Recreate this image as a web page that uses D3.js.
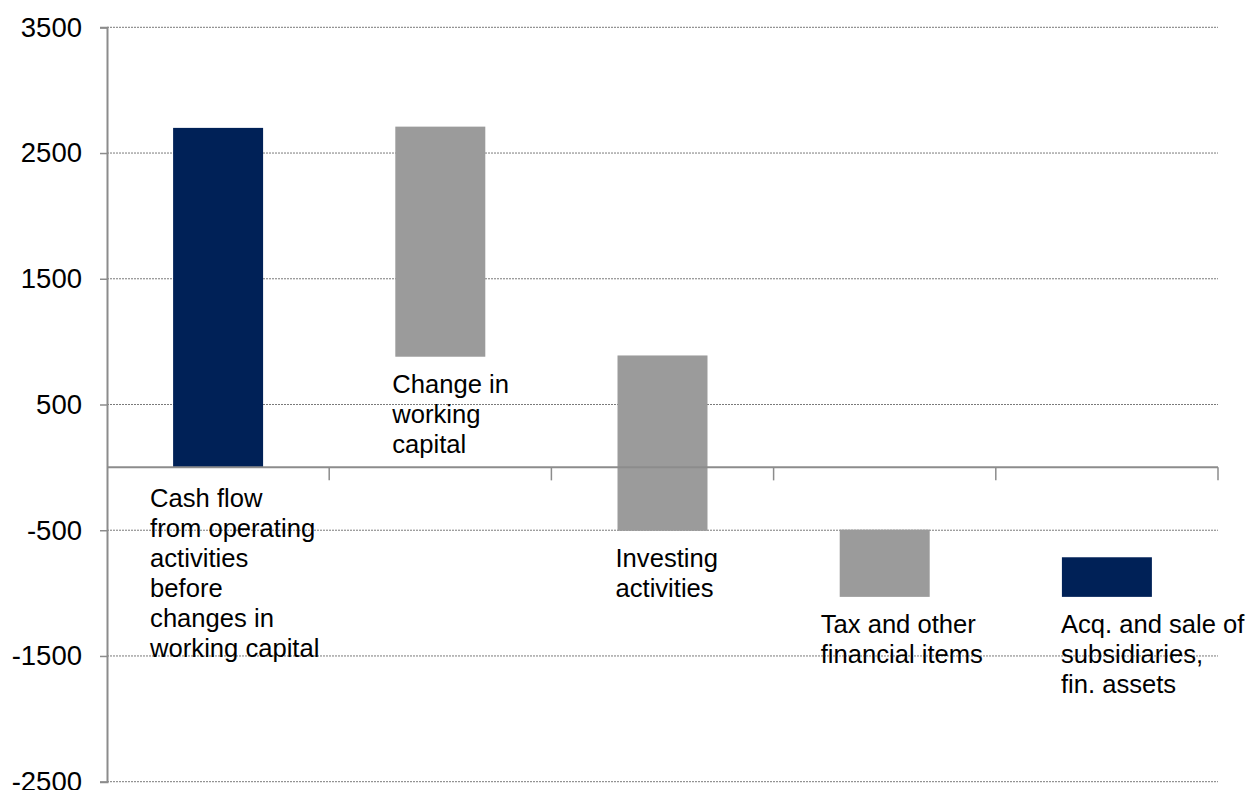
<!DOCTYPE html>
<html>
<head>
<meta charset="utf-8">
<script src="https://cdn.jsdelivr.net/npm/d3@7"></script>
<style>
  html, body { margin: 0; padding: 0; background: #fff; }
  svg { display: block; font-family: "Liberation Sans", Arial, sans-serif; }
</style>
</head>
<body>
<svg id="chart" width="1250" height="790"></svg>
<script>
// Cash flow bridge: each step floats between a start and an end value
const categories = [
  "Cash flow from operating activities before changes in working capital",
  "Change in working capital",
  "Investing activities",
  "Tax and other financial items",
  "Acq. and sale of subsidiaries, fin. assets"
];
const startValues = [0, 2710, 890, -495, -1030];
const endValues   = [2700, 880, -505, -1030, -715];
const barKinds    = ["total", "step", "step", "step", "total"];
const labelLines = [
  ["Cash flow", "from operating", "activities", "before", "changes in", "working capital"],
  ["Change in", "working", "capital"],
  ["Investing", "activities"],
  ["Tax and other", "financial items"],
  ["Acq. and sale of", "subsidiaries,", "fin. assets"]
];
const yTicks = [-2500, -1500, -500, 500, 1500, 2500, 3500];

const svg = d3.select("#chart");
const plotLeft = 107, plotRight = 1218, plotTop = 27.3, plotBottom = 781.7;

const x = d3.scaleBand()
  .domain(categories)
  .range([plotLeft, plotRight])
  .paddingInner(0.595)
  .paddingOuter(0.2975);

const y = d3.scaleLinear()
  .domain([-2500, 3500])
  .range([plotBottom, plotTop]);

const colors = { total: "#002157", step: "#9b9b9b" };

// Dotted horizontal gridlines
svg.append("g")
  .selectAll("line")
  .data(yTicks)
  .join("line")
  .attr("x1", plotLeft).attr("x2", plotRight)
  .attr("y1", d => y(d)).attr("y2", d => y(d))
  .attr("stroke", "#7a7a7a")
  .attr("stroke-width", 1)
  .attr("stroke-dasharray", "2,1");

// Bars
svg.append("g")
  .selectAll("rect")
  .data(categories)
  .join("rect")
  .attr("x", d => x(d))
  .attr("width", x.bandwidth())
  .attr("y", (d, i) => y(Math.max(startValues[i], endValues[i])))
  .attr("height", (d, i) => Math.abs(y(startValues[i]) - y(endValues[i])))
  .attr("fill", (d, i) => colors[barKinds[i]]);

// Y axis (plain hyphen for negatives)
const yAxis = svg.append("g")
  .attr("transform", `translate(${plotLeft},0)`)
  .call(d3.axisLeft(y).tickValues(yTicks).tickSize(7).tickPadding(18).tickFormat(d => String(d)));
yAxis.select(".domain").attr("stroke", "#8c8c8c").attr("stroke-width", 2);
yAxis.selectAll(".tick line").attr("stroke", "#8c8c8c").attr("stroke-width", 1.5);
yAxis.selectAll(".tick text")
  .attr("fill", "#000")
  .style("font-size", "27.5px")
  .style("font-family", "'Liberation Sans', Arial, sans-serif");

// Category axis along zero, with ticks at band boundaries
const y0 = y(0);
svg.append("line")
  .attr("x1", plotLeft).attr("x2", plotRight)
  .attr("y1", y0).attr("y2", y0)
  .attr("stroke", "#8c8c8c").attr("stroke-width", 2);
const step = x.step();
const bandEdge = d => x(d) - x.paddingOuter() * step + step;
svg.append("g")
  .selectAll("line")
  .data(categories)
  .join("line")
  .attr("x1", bandEdge)
  .attr("x2", bandEdge)
  .attr("y1", y0).attr("y2", y0 + 13)
  .attr("stroke", "#8c8c8c").attr("stroke-width", 1.5);

// Category labels placed just below the lower end of each bar
const labelDx = [-23, -3, -2, -19, -1];
const labelDy = [40, 36.5, 36, 36, 36];
const labels = svg.append("g")
  .style("font-size", "25.6px")
  .attr("fill", "#000");
categories.forEach((c, i) => {
  const low = Math.min(startValues[i], endValues[i]);
  const t = labels.append("text")
    .attr("x", x(c) + labelDx[i])
    .attr("y", y(low) + labelDy[i]);
  labelLines[i].forEach((line, k) => {
    t.append("tspan")
      .attr("x", x(c) + labelDx[i])
      .attr("dy", k === 0 ? 0 : 30)
      .text(line);
  });
});
</script>
</body>
</html>
